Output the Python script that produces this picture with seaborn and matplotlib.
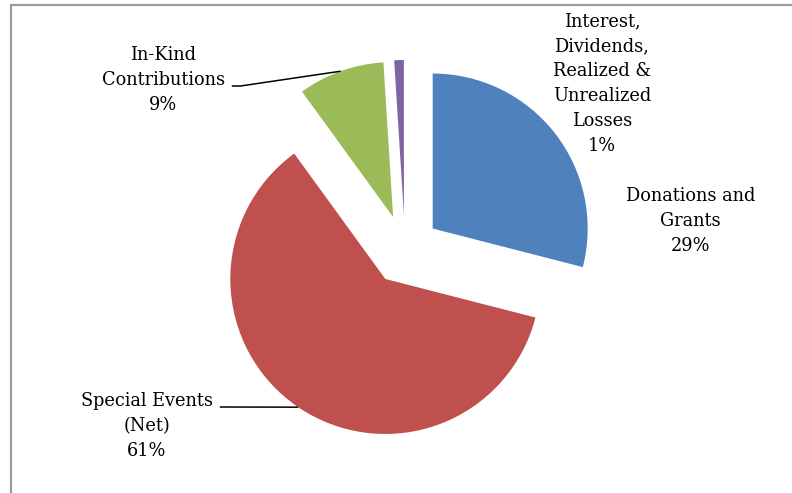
import matplotlib
matplotlib.use('Agg')
import matplotlib.pyplot as plt
import seaborn as sns
import numpy as np
from matplotlib.lines import Line2D

# data
categories = ['Donations and\nGrants', 'Special Events\n(Net)', 'In-Kind\nContributions',
              'Interest,\nDividends,\nRealized &\nUnrealized\nLosses']
shares = [29, 61, 9, 1]
colors = ['#4F81BD', '#C0504D', '#9BBB59', '#8064A2']

sns.set_theme(style='white')
plt.rcParams['font.family'] = ['DejaVu Serif']

fig = plt.figure(figsize=(7.92, 4.93), dpi=100)
ax = fig.add_axes([0, 0, 1, 1])

explode = 0.226
wedges, _ = ax.pie(shares, colors=colors, startangle=90, counterclock=False,
                   explode=[explode] * len(shares), radius=1,
                   wedgeprops=dict(linewidth=0))

# pixel layout: pie centre at (405, 250), radius 155 px
ax.set_xlim(-405 / 155, (792 - 405) / 155)
ax.set_ylim(-(493 - 250) / 155, 250 / 155)
ax.set_axis_off()

# label positions (layout, in radius units)
label_pos = [(1.84, 0.19), (-1.665, -1.134), (-1.56, 1.095), (1.27, 1.075)]
fs = 12.8
for w, name, pct, (lx, ly) in zip(wedges, categories, shares, label_pos):
    ax.text(lx, ly, f'{name}\n{pct}%', ha='center', va='center', fontsize=fs,
            linespacing=1.5, color='black')

# leader lines for In-Kind and Special Events
def edge_point(w):
    mid = np.deg2rad((w.theta1 + w.theta2) / 2)
    cx, cy = w.center
    return cx + w.r * np.cos(mid), cy + w.r * np.sin(mid)

for idx, start in [(2, (-1.117, 1.058)), (1, (-1.195, -1.013))]:
    ex, ey = edge_point(wedges[idx])
    sx, sy = start
    ax.plot([sx, sx + 0.055, ex], [sy, sy, ey], color='black', lw=1.1,
            solid_capstyle='butt')

# outer frame (left and top edges only visible)
fig.add_artist(Line2D([11 / 792, 11 / 792], [0, 1 - 5 / 493], transform=fig.transFigure,
                      color='#9a9a9a', lw=1.6))
fig.add_artist(Line2D([11 / 792, 1], [1 - 5 / 493, 1 - 5 / 493], transform=fig.transFigure,
                      color='#9a9a9a', lw=1.6))

fig.savefig('out.png', dpi=100, facecolor='white')
